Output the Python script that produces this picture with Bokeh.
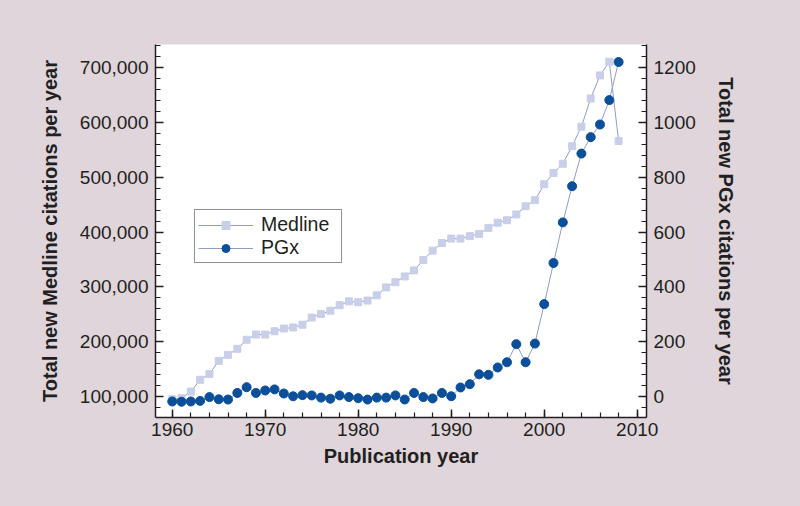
from bokeh.plotting import figure
from bokeh.models import (Range1d, LinearAxis, SingleIntervalTicker, NumeralTickFormatter,
                          Legend, LegendItem, ColumnDataSource)
from bokeh.embed import file_html
from bokeh.resources import INLINE

years = list(range(1960, 2009))
medline = [95000, 97000, 109000, 130500, 141000, 165000, 176000, 187000, 203500, 213000,
           213000, 219000, 224000, 226000, 231000, 244000, 250500, 256500, 266500, 273500,
           272000, 275000, 284500, 299000, 308500, 319000, 330000, 349000, 366000, 380000,
           388000, 388000, 392500, 396500, 407500, 417000, 421500, 432000, 447000, 458000,
           487000, 507500, 524500, 556500, 592000, 643500, 685500, 710500, 566000]
pgx = [-18, -19, -18, -16, -2, -10, -11, 13, 34, 13,
       22, 26, 11, 1, 5, 4, -4, -8, 4, -2,
       -6, -11, -4, -4, 4, -11, 13, -2, -7, 13,
       1, 33, 45, 81, 79, 106, 125, 191, 125, 193,
       337, 487, 635, 767, 886, 946, 992, 1081, 1220]

x_label = "Publication year"
left_label = "Total new Medline citations per year"
right_label = "Total new PGx citations per year"
series_names = ["Medline", "PGx"]

BG = "#dfd5db"
INK = "#231f20"
LINE = "#8f9cc9"
FONT = "Liberation Sans"

p = figure(width=784, height=490, output_backend="svg", toolbar_location=None,
           x_range=Range1d(1958.2, 2011), y_range=Range1d(61750, 741900),
           min_border_left=147, min_border_right=146, min_border_top=36, min_border_bottom=81,
           background_fill_color="white", border_fill_color=BG, outline_line_color=None)
p.extra_y_ranges = {"pgx": Range1d(-76.5, 1283.8)}
p.grid.visible = False

src = ColumnDataSource(dict(year=years, medline=medline, pgx=pgx))

l1 = p.line("year", "medline", source=src, line_color=LINE, line_width=1)
m1 = p.scatter("year", "medline", source=src, marker="square", size=7,
               fill_color="#c9cfe8", line_color="#c9cfe8")
l2 = p.line("year", "pgx", source=src, y_range_name="pgx", line_color=LINE, line_width=1)
m2 = p.scatter("year", "pgx", source=src, y_range_name="pgx", marker="circle", size=9,
               fill_color="#0b4f9b", line_color="#0b4f9b")

def style_axis(ax, label, tick_size="19px", standoff=16, lstandoff=7):
    ax.axis_label = label
    ax.axis_label_text_font = FONT
    ax.axis_label_text_font_style = "bold"
    ax.axis_label_text_font_size = "20px"
    ax.axis_label_text_color = INK
    ax.axis_label_standoff = standoff
    ax.major_label_text_font = FONT
    ax.major_label_text_font_size = tick_size
    ax.major_label_text_color = INK
    ax.major_label_standoff = lstandoff
    ax.axis_line_color = INK
    ax.axis_line_width = 1.5
    ax.major_tick_line_color = INK
    ax.minor_tick_line_color = INK
    ax.major_tick_line_width = 1.5
    ax.minor_tick_line_width = 1.2
    ax.major_tick_in = 8
    ax.major_tick_out = 0
    ax.minor_tick_in = 5
    ax.minor_tick_out = 0

xa = p.xaxis[0]
xa.ticker = SingleIntervalTicker(interval=10, num_minor_ticks=5)
style_axis(xa, x_label, standoff=6, lstandoff=5)

ya = p.yaxis[0]
ya.ticker = SingleIntervalTicker(interval=100000, num_minor_ticks=5)
ya.formatter = NumeralTickFormatter(format="0,0")
style_axis(ya, left_label)

ra = LinearAxis(y_range_name="pgx", ticker=SingleIntervalTicker(interval=200, num_minor_ticks=5))
style_axis(ra, right_label)
p.add_layout(ra, "right")

legend = Legend(items=[LegendItem(label=series_names[0], renderers=[l1, m1]),
                       LegendItem(label=series_names[1], renderers=[l2, m2])],
                location=(39, 154), orientation="vertical",
                border_line_color=INK, border_line_width=1, background_fill_color="white",
                background_fill_alpha=1, label_text_font=FONT, label_text_font_size="19.5px",
                label_text_color=INK, glyph_width=55, glyph_height=20, label_height=20,
                label_width=77, label_standoff=8, padding=3, spacing=0, margin=0)
p.add_layout(legend, "center")

html = file_html(p, INLINE)
html = html.replace("</head>",
                    "<style>html,body{background:%s;} body{margin:8px;}</style></head>" % BG, 1)
open("out.html", "w").write(html)
